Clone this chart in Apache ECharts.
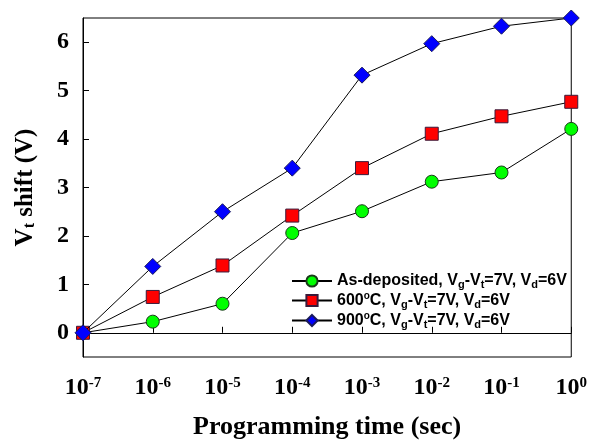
<!DOCTYPE html>
<html>
<head>
<meta charset="utf-8">
<script src="https://cdn.jsdelivr.net/npm/echarts@6/dist/echarts.min.js"></script>
<style>
    html, body { margin: 0; padding: 0; background: #fff; }
    #chart { width: 590px; height: 445px; }
</style>
</head>
<body>
<div id="chart"></div>
<script>
// programming times (sec)
const times = [1e-7, 1e-6, 1e-5, 1e-4, 1e-3, 1e-2, 1e-1, 1];
const asDeposited = [0, 0.23, 0.6, 2.06, 2.51, 3.12, 3.31, 4.21];
const anneal600 = [0, 0.74, 1.39, 2.42, 3.4, 4.11, 4.47, 4.77];
const anneal900 = [0, 1.37, 2.5, 3.4, 5.32, 5.97, 6.33, 6.5];
const yTicks = [0, 1, 2, 3, 4, 5, 6];

const serif = "'Liberation Serif', 'Times New Roman', serif";
const sans = "'Liberation Sans', Arial, sans-serif";

const pairs = (ys) => times.map((t, i) => [t, ys[i]]);

const legendRich = {
    b: { fontFamily: sans, fontWeight: "bold", fontSize: 16, color: "#000" },
    sub: { fontFamily: sans, fontWeight: "bold", fontSize: 11, color: "#000", verticalAlign: "bottom", padding: [7, 0, 0, 0] },
    sup: { fontFamily: sans, fontWeight: "bold", fontSize: 10, color: "#000", verticalAlign: "top", padding: [0, 0, 9, 0] },
};

const legendText = {
    "As-deposited": "{b|As-deposited, V}{sub|g}{b|-V}{sub|t}{b|=7V, V}{sub|d}{b|=6V}",
    "600C": "{b|600}{sup|o}{b|C, V}{sub|g}{b|-V}{sub|t}{b|=7V, V}{sub|d}{b|=6V}",
    "900C": "{b|900}{sup|o}{b|C, V}{sub|g}{b|-V}{sub|t}{b|=7V, V}{sub|d}{b|=6V}",
};

const chart = echarts.init(document.getElementById("chart"));

const option = {
    backgroundColor: "#fff",
    animation: false,
    grid: {
        left: 83,
        right: 18,
        top: 18,
        bottom: 86,
        show: true,
        borderColor: "#000",
        borderWidth: 1,
    },
    legend: {
        orient: "vertical",
        left: 286,
        top: 268,
        itemWidth: 40,
        itemHeight: 14,
        itemGap: 1,
        formatter: (name) => legendText[name],
        textStyle: { rich: legendRich },
        data: ["As-deposited", "600C", "900C"],
    },
    xAxis: {
        type: "log",
        logBase: 10,
        min: 1e-7,
        max: 1,
        name: "Programming time (sec)",
        nameLocation: "middle",
        nameGap: 57,
        nameTextStyle: {
            fontFamily: serif,
            fontWeight: "bold",
            fontSize: 26,
            color: "#000",
        },
        axisLine: { lineStyle: { color: "#000", width: 1 } },
        axisTick: { inside: true, length: 6, lineStyle: { color: "#000" } },
        splitLine: { show: false },
        axisLabel: {
            margin: 19,
            formatter: (v) => "{b|10}{sup|" + Math.round(Math.log10(v)) + "}",
            rich: {
                b: { fontFamily: serif, fontWeight: "bold", fontSize: 24, color: "#000" },
                sup: { fontFamily: serif, fontWeight: "bold", fontSize: 15, color: "#000", verticalAlign: "top", padding: [0, 0, 9, 0] },
            },
        },
    },
    yAxis: {
        type: "value",
        min: -0.5,
        max: 6.5,
        name: "{b|V}{sub|t}{b| shift (V)}",
        nameLocation: "middle",
        nameGap: 45,
        nameRotate: 90,
        nameTextStyle: {
            rich: {
                b: { fontFamily: serif, fontWeight: "bold", fontSize: 25, color: "#000" },
                sub: { fontFamily: serif, fontWeight: "bold", fontSize: 16, color: "#000", verticalAlign: "bottom", padding: [9, 0, 0, 0] },
            },
        },
        axisLine: { lineStyle: { color: "#000", width: 1 } },
        axisTick: { inside: true, length: 6, customValues: yTicks, lineStyle: { color: "#000" } },
        splitLine: { show: false },
        axisLabel: {
            customValues: yTicks,
            margin: 14,
            fontFamily: serif,
            fontWeight: "bold",
            fontSize: 24,
            color: "#000",
        },
    },
    series: [
        {
            name: "As-deposited",
            type: "line",
            data: pairs(asDeposited),
            symbol: "circle",
            symbolSize: 13,
            z: 3,
            lineStyle: { color: "#000", width: 1 },
            itemStyle: { color: "#00ff00", borderColor: "#1a3a1a", borderWidth: 1 },
        },
        {
            name: "600C",
            type: "line",
            data: pairs(anneal600),
            symbol: "rect",
            symbolSize: 13,
            z: 4,
            lineStyle: { color: "#000", width: 1 },
            itemStyle: { color: "#ff0000", borderColor: "#3a1a3a", borderWidth: 1 },
        },
        {
            name: "900C",
            type: "line",
            data: pairs(anneal900),
            symbol: "diamond",
            symbolSize: 16,
            z: 5,
            lineStyle: { color: "#000", width: 1 },
            itemStyle: { color: "#0000ff", borderColor: "#1a1a5a", borderWidth: 1 },
        },
    ],
};

chart.setOption(option);
</script>
</body>
</html>
